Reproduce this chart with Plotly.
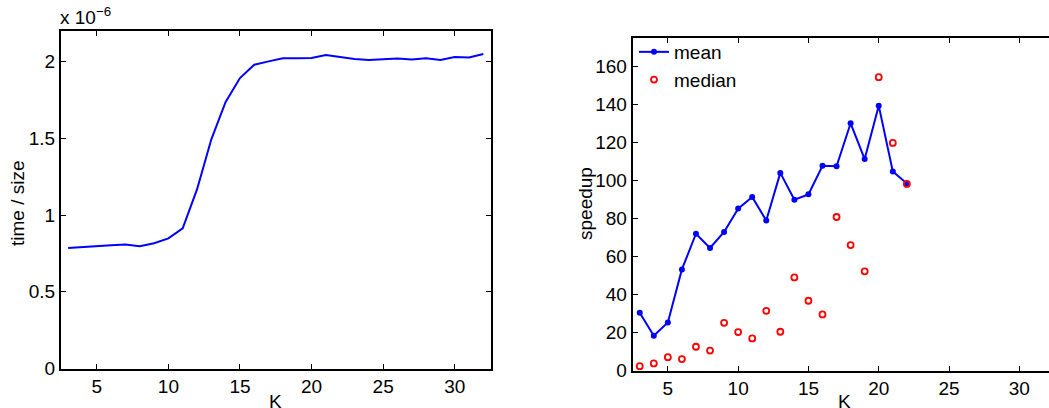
import plotly.graph_objects as go

# ---- data ----
K_left = list(range(3, 33))
time_per_size_e6 = [0.785, 0.793, 0.799, 0.804, 0.809, 0.797, 0.816, 0.848, 0.914, 1.167,
                    1.494, 1.738, 1.893, 1.980, 2.002, 2.022, 2.022, 2.024, 2.044, 2.030,
                    2.017, 2.011, 2.015, 2.020, 2.015, 2.022, 2.011, 2.030, 2.028, 2.050]

K_right = list(range(3, 23))
speedup_mean = [30.4, 18.3, 25.3, 53.2, 72.0, 64.5, 72.9, 85.2, 91.3, 78.9,
                104.0, 89.9, 92.7, 107.7, 107.5, 130.1, 111.3, 139.4, 104.7, 98.4]
speedup_median = [2.3, 3.7, 7.0, 6.0, 12.5, 10.5, 25.1, 20.2, 16.9, 31.4,
                  20.4, 49.0, 36.7, 29.5, 80.8, 66.0, 52.2, 154.4, 119.8, 98.2]

left_yticks = [0, 0.5, 1, 1.5, 2]
left_yticktext = ["0", "0.5", "1", "1.5", "2"]
x_ticks = [5, 10, 15, 20, 25, 30]
right_yticks = [0, 20, 40, 60, 80, 100, 120, 140, 160]

W, H = 1049, 408
FONT = "Liberation Sans, Arial, Helvetica, sans-serif"
FS = 19

def px_x(p):
    return p / W

def px_y(p):
    return 1 - p / H

fig = go.Figure()

fig.add_trace(go.Scatter(x=K_left, y=time_per_size_e6, mode="lines",
                         line=dict(color="#0000ff", width=2),
                         showlegend=False, xaxis="x", yaxis="y"))

fig.add_trace(go.Scatter(x=K_right, y=speedup_mean, mode="lines+markers", name="mean",
                         line=dict(color="#0000ff", width=2),
                         marker=dict(color="#0000ff", size=6, symbol="circle"),
                         xaxis="x2", yaxis="y2"))
fig.add_trace(go.Scatter(x=K_right, y=speedup_median, mode="markers", name="median",
                         marker=dict(color="rgba(0,0,0,0)", size=6, symbol="circle",
                                     line=dict(color="#ff0000", width=1.8)),
                         xaxis="x2", yaxis="y2"))

axis_common = dict(showline=True, linecolor="black", linewidth=2,
                   ticks="inside", ticklen=5, tickwidth=1, tickcolor="black",
                   showgrid=False, zeroline=False,
                   tickfont=dict(family=FONT, size=FS, color="black"),
                   automargin=False)

fig.update_layout(
    width=W, height=H,
    margin=dict(l=0, r=0, t=0, b=0),
    paper_bgcolor="white", plot_bgcolor="white",
    font=dict(family=FONT, size=FS, color="black"),
    xaxis=dict(domain=[px_x(61), px_x(490.5)], range=[2.5, 32.5],
               tickvals=x_ticks, mirror="ticks", anchor="y", **axis_common),
    yaxis=dict(domain=[px_y(368.5), px_y(31)], range=[0, 2.2],
               tickvals=left_yticks, ticktext=left_yticktext, mirror="ticks",
               anchor="x", **axis_common),
    xaxis2=dict(domain=[px_x(632.7), 1.0], range=[2.5, 32.11],
                tickvals=x_ticks, mirror="ticks", anchor="y2", **axis_common),
    yaxis2=dict(domain=[px_y(370.5), px_y(38)], range=[0, 175],
                tickvals=right_yticks, mirror=False, anchor="x2", **axis_common),
    legend=dict(x=px_x(634), y=px_y(33), xanchor="left", yanchor="top",
                bgcolor="rgba(0,0,0,0)", borderwidth=0,
                font=dict(family=FONT, size=FS, color="black"),
                tracegroupgap=0),
    showlegend=True,
)

annotations = [
    dict(text="K", x=px_x(276), y=px_y(401), xref="paper", yref="paper",
         showarrow=False, xanchor="center", yanchor="middle",
         font=dict(family=FONT, size=FS)),
    dict(text="K", x=px_x(844), y=px_y(401), xref="paper", yref="paper",
         showarrow=False, xanchor="center", yanchor="middle",
         font=dict(family=FONT, size=FS)),
    dict(text="time / size", x=px_x(17), y=px_y(203), xref="paper", yref="paper",
         showarrow=False, xanchor="center", yanchor="middle", textangle=-90,
         font=dict(family=FONT, size=FS)),
    dict(text="speedup", x=px_x(585), y=px_y(204), xref="paper", yref="paper",
         showarrow=False, xanchor="center", yanchor="middle", textangle=-90,
         font=dict(family=FONT, size=FS)),
    dict(text="x 10<sup>\u22126</sup>", x=px_x(58), y=px_y(30), xref="paper", yref="paper",
         showarrow=False, xanchor="left", yanchor="bottom",
         font=dict(family=FONT, size=FS)),
]
fig.update_layout(annotations=annotations)

fig.write_html("out.html")
